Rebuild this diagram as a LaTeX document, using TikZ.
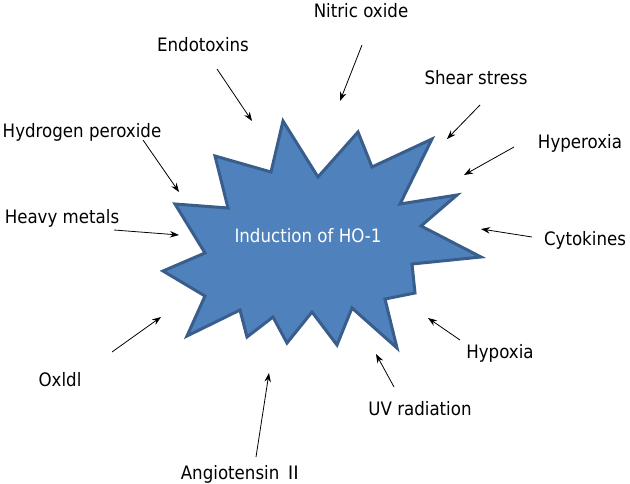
\documentclass[tikz,border=0pt]{standalone}
\usepackage{fontspec}
\setmainfont{DejaVu Sans}[FakeStretch=0.9]
\newfontfamily\cjkfont{Noto Sans CJK SC}
\usetikzlibrary{arrows.meta}
\definecolor{starfill}{HTML}{4F81BD}
\definecolor{starline}{HTML}{3A5E8C}
\tikzset{
  lbl/.style={font=\fontsize{18.5}{22}\selectfont, inner sep=0pt, anchor=base},
  arr/.style={-{Stealth[length=9pt,width=6.5pt]}, line width=0.8pt, black},
  burst/.style={fill=starfill, draw=starline, line width=3pt, line join=miter},
}
\begin{document}
\begin{tikzpicture}[x=1pt,y=-1pt]
\useasboundingbox (0,0) rectangle (630,484);
\fill[white] (0,0) rectangle (630,484);
% star burst
\draw[burst] (175,204) -- (228,208) -- (215,156) -- (271,172) -- (283,121) -- (318,177)
  -- (358,132) -- (372,167) -- (432,139) -- (400,204) -- (457,195) -- (421,226)
  -- (481,257) -- (412,264) -- (415,293) -- (385,299) -- (397,348) -- (352,308)
  -- (337,345) -- (312,312) -- (287,343) -- (273,317) -- (247,337) -- (240,310)
  -- (187,336) -- (205,296) -- (163,271) -- (205,253) -- cycle;
\node[lbl, text=white] (ho) at (308,243) {Induction of HO-1};
% labels
\node[lbl] (nitric) at (361,18) {Nitric oxide};
\node[lbl] (endo) at (203,52) {Endotoxins};
\node[lbl] (shear) at (476,85) {Shear stress};
\node[lbl] (hydro) at (82,138) {Hydrogen peroxide};
\node[lbl] (hyper) at (580,149) {Hyperoxia};
\node[lbl] (heavy) at (62,224) {Heavy metals};
\node[lbl] (cyto) at (585,246) {Cytokines};
\node[lbl] (hypox) at (500,358) {Hypoxia};
\node[lbl] (oxldl) at (60,386) {Oxldl};
\node[lbl] (uv) at (420,415) {UV radiation};
\node[lbl] (angio) at (242,479) {Angiotensin {\cjkfont Ⅱ}};
% arrow ends
\coordinate (nitricS) at (362,45);  \coordinate (nitricE) at (340,101);
\coordinate (endoS) at (217,69);    \coordinate (endoE) at (252,121);
\coordinate (shearS) at (480,105);  \coordinate (shearE) at (447,139);
\coordinate (hydroS) at (143,140);  \coordinate (hydroE) at (179,192);
\coordinate (hyperS) at (514,147);  \coordinate (hyperE) at (464,175);
\coordinate (heavyS) at (114,230);  \coordinate (heavyE) at (179,235);
\coordinate (cytoS) at (532,237);   \coordinate (cytoE) at (481,229);
\coordinate (hypoxS) at (460,340);  \coordinate (hypoxE) at (428,318);
\coordinate (uvS) at (394,387);     \coordinate (uvE) at (376,354);
\coordinate (angioS) at (256,457);  \coordinate (angioE) at (269,373);
\coordinate (oxS) at (112,352);     \coordinate (oxE) at (161,317);
\foreach \a in {nitric,endo,shear,hydro,hyper,heavy,cyto,hypox,uv,angio,ox}
  \draw[arr] (\a S) -- (\a E);
\end{tikzpicture}
\end{document}
